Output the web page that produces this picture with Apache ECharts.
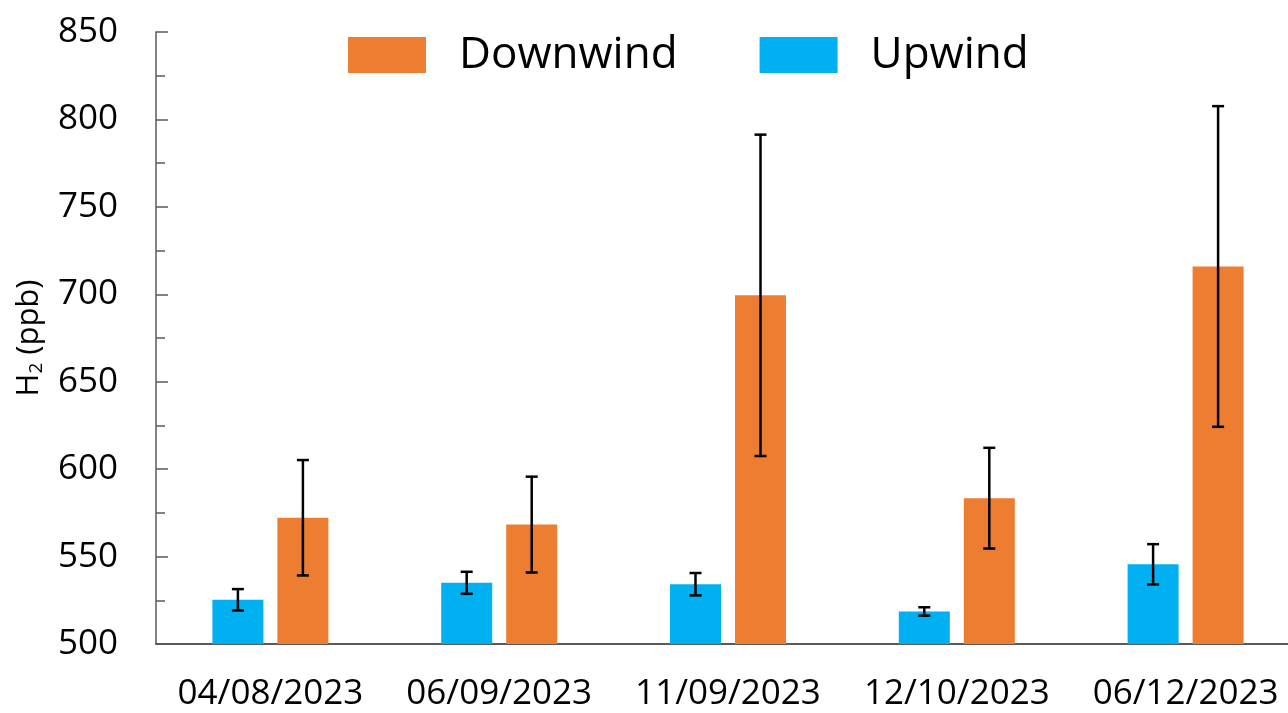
<!DOCTYPE html>
<html>
<head>
<meta charset="utf-8">
<script src="https://cdn.jsdelivr.net/npm/echarts@6/dist/echarts.min.js"></script>
<style>
  html, body { margin: 0; padding: 0; background: #fff; overflow: hidden; }
  #chart { width: 1300px; height: 713px; }
</style>
</head>
<body>
<div id="chart"></div>
<script>
// Sampling dates
const dates = ['04/08/2023', '06/09/2023', '11/09/2023', '12/10/2023', '06/12/2023'];
// Mean H2 mixing ratios (ppb) and their uncertainties
const upwind = [525.3, 535.0, 534.2, 518.6, 545.6];
const upwindErr = [6.1, 6.3, 6.4, 2.4, 11.5];
const downwind = [572.2, 568.3, 699.4, 583.4, 715.9];
const downwindErr = [33.0, 27.4, 91.9, 28.8, 91.7];
// Axis range
const yMin = 500, yMax = 850, yStep = 50;

const BAR_W = 51, BAR_GAP = 14;
const FONT = 'Open Sans';
const ORANGE = '#ED7D31', BLUE = '#00B0F0';

function errorSeries(means, errs, side) {
  const shift = side * (BAR_W + BAR_GAP) / 2;
  return {
    type: 'custom',
    silent: true,
    z: 10,
    data: means.map((m, i) => [i, m, errs[i]]),
    renderItem: function (params, api) {
      const i = api.value(0), m = api.value(1), e = api.value(2);
      const hi = api.coord([i, m + e]);
      const lo = api.coord([i, m - e]);
      const x = hi[0] + shift;
      const cap = 6;
      const st = { stroke: '#000', lineWidth: 2.5 };
      return {
        type: 'group',
        children: [
          { type: 'line', shape: { x1: x, y1: hi[1], x2: x, y2: lo[1] }, style: st },
          { type: 'line', shape: { x1: x - cap, y1: hi[1], x2: x + cap, y2: hi[1] }, style: st },
          { type: 'line', shape: { x1: x - cap, y1: lo[1], x2: x + cap, y2: lo[1] }, style: st }
        ]
      };
    }
  };
}

const chart = echarts.init(document.getElementById('chart'), null, { renderer: 'canvas' });
chart.setOption({
  animation: false,
  backgroundColor: '#fff',
  textStyle: { fontFamily: FONT },
  grid: { left: 156, right: 0, top: 32, bottom: 69, containLabel: false },
  legend: {
    data: ['Downwind', 'Upwind'],
    top: 20,
    left: 343,
    itemWidth: 78,
    itemHeight: 36,
    itemGap: 82,
    icon: 'rect',
    textStyle: { fontFamily: FONT, fontSize: 44, lineHeight: 44, color: '#000', padding: [16, 0, 0, 28] }
  },
  xAxis: {
    type: 'category',
    data: dates,
    axisLine: { lineStyle: { color: '#595959', width: 2 } },
    axisTick: { show: false },
    axisLabel: { fontFamily: FONT, fontSize: 35, color: '#000', margin: 33, interval: 0 }
  },
  yAxis: {
    type: 'value',
    min: yMin,
    max: yMax,
    interval: yStep,
    name: '{a|H}{b|2}{a| (ppb)}',
    nameLocation: 'middle',
    nameGap: 110,
    nameRotate: 90,
    nameTextStyle: {
      rich: {
        a: { fontFamily: FONT, fontSize: 31, color: '#000' },
        b: { fontFamily: FONT, fontSize: 19, color: '#000', verticalAlign: 'bottom', padding: [14, 0, 0, 0] }
      }
    },
    axisLine: { show: true, lineStyle: { color: '#595959', width: 1.5 } },
    axisTick: { show: true, inside: true, length: 12, lineStyle: { color: '#595959', width: 1.5 } },
    minorTick: { show: true, splitNumber: 2, length: 9, lineStyle: { color: '#595959', width: 1.5 } },
    splitLine: { show: false },
    axisLabel: { fontFamily: FONT, fontSize: 35, color: '#000', margin: 38 }
  },
  series: [
    {
      name: 'Upwind', type: 'bar', data: upwind,
      barWidth: BAR_W, barGap: (BAR_GAP / BAR_W * 100) + '%',
      itemStyle: { color: BLUE }
    },
    {
      name: 'Downwind', type: 'bar', data: downwind,
      barWidth: BAR_W, barGap: (BAR_GAP / BAR_W * 100) + '%',
      itemStyle: { color: ORANGE }
    },
    errorSeries(upwind, upwindErr, -1),
    errorSeries(downwind, downwindErr, 1)
  ]
});
</script>
</body>
</html>
